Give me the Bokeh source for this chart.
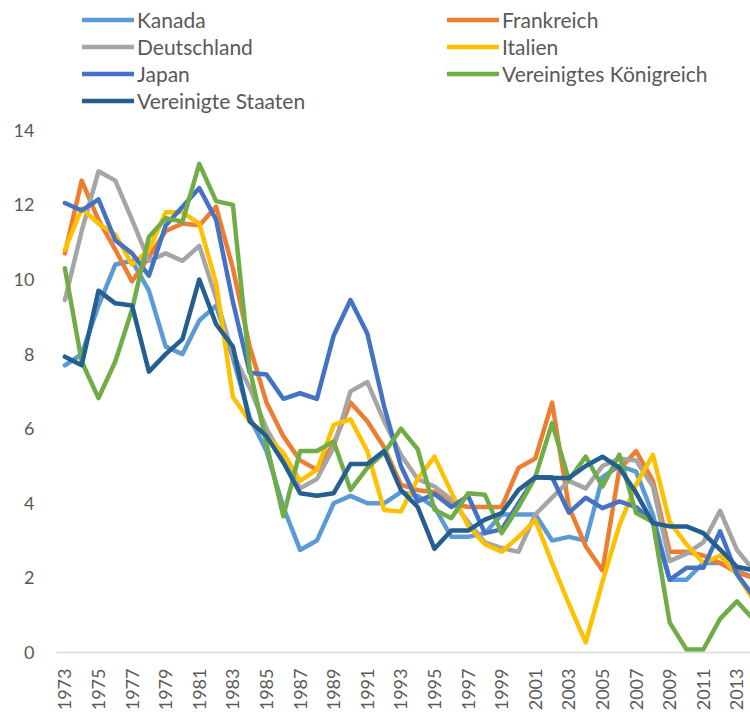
import math
from bokeh.plotting import figure
from bokeh.models import Range1d, FixedTicker, Legend, LegendItem
from bokeh.embed import file_html
from bokeh.resources import INLINE

years = list(range(1973, 2015))

kanada = [7.7, 8.0, 9.3, 10.4, 10.5, 9.7, 8.2, 8.0, 8.9, 9.3,
          7.9, 6.3, 5.4, 3.9, 2.75, 3.0, 4.0, 4.2, 4.0, 4.0,
          4.3, 4.2, 3.9, 3.1, 3.1, 3.2, 3.7, 3.7, 3.7, 3.0,
          3.1, 3.0, 4.7, 5.0, 4.85, 3.7, 1.95, 1.95, 2.4, 2.4,
          2.2, 2.0]
frankreich = [10.7, 12.65, 11.6, 10.8, 9.95, 10.6, 11.3, 11.5, 11.45, 11.95,
              10.3, 8.2, 6.7, 5.8, 5.15, 4.9, 5.6, 6.7, 6.2, 5.5,
              4.5, 4.35, 4.3, 4.0, 3.9, 3.9, 3.9, 4.95, 5.2, 6.7,
              3.9, 2.85, 2.2, 4.9, 5.4, 4.6, 2.7, 2.7, 2.6, 2.4,
              2.15, 2.0]
deutschland = [9.45, 11.3, 12.9, 12.65, 11.6, 10.5, 10.7, 10.5, 10.9, 9.5,
               8.0, 7.1, 6.0, 5.2, 4.4, 4.65, 5.5, 7.0, 7.25, 6.2,
               5.3, 4.65, 4.45, 4.1, 3.5, 2.95, 2.8, 2.7, 3.7, 4.15,
               4.6, 4.4, 5.0, 5.2, 5.15, 4.45, 2.45, 2.65, 2.95, 3.8,
               2.75, 2.2]
italien = [10.8, 11.9, 11.5, 11.2, 10.4, 10.8, 11.8, 11.8, 11.5, 9.9,
           6.85, 6.2, 5.8, 5.35, 4.6, 4.9, 6.1, 6.25, 5.4, 3.82,
           3.78, 4.65, 5.25, 4.3, 3.4, 2.9, 2.7, 3.1, 3.55, 2.4,
           1.3, 0.27, 1.9, 3.4, 4.5, 5.3, 3.5, 2.9, 2.4, 2.6,
           2.1, 1.4]
japan = [12.05, 11.85, 12.15, 11.05, 10.7, 10.1, 11.45, 11.95, 12.45, 11.6,
         9.4, 7.5, 7.45, 6.8, 6.95, 6.8, 8.5, 9.45, 8.55, 6.6,
         5.0, 4.05, 4.25, 3.9, 4.2, 3.2, 3.3, 4.0, 4.7, 4.7,
         3.75, 4.15, 3.87, 4.05, 3.9, 3.5, 1.95, 2.27, 2.27, 3.25,
         2.1, 1.5]
vk = [10.3, 7.8, 6.82, 7.8, 9.2, 11.14, 11.64, 11.55, 13.1, 12.1,
      12.0, 7.6, 5.6, 3.65, 5.4, 5.4, 5.66, 4.36, 4.95, 5.35,
      6.0, 5.45, 3.83, 3.6, 4.27, 4.23, 3.2, 3.9, 4.7, 6.15,
      4.63, 5.25, 4.45, 5.3, 3.74, 3.5, 0.8, 0.08, 0.08, 0.9,
      1.37, 0.88]
usa = [7.93, 7.7, 9.7, 9.36, 9.3, 7.53, 8.0, 8.4, 10.0, 8.8,
       8.2, 6.2, 5.8, 5.1, 4.27, 4.2, 4.27, 5.05, 5.05, 5.4,
       4.36, 3.9, 2.78, 3.27, 3.27, 3.56, 3.74, 4.36, 4.7, 4.68,
       4.68, 5.0, 5.25, 4.95, 4.28, 3.47, 3.38, 3.38, 3.2, 2.76,
       2.3, 2.2]

names = ["Kanada", "Frankreich", "Deutschland", "Italien", "Japan",
         "Vereinigtes Königreich", "Vereinigte Staaten"]
values = [kanada, frankreich, deutschland, italien, japan, vk, usa]
colors = ["#5B9BD5", "#ED7D31", "#A5A5A5", "#FFC000", "#4472C4",
          "#70AD47", "#255E91"]

x_tick_labels = list(range(1973, 2014, 2))
y_ticks = [0, 2, 4, 6, 8, 10, 12, 14]

FONT = "Lato"
TXT = "#595959"

W, H = 750, 713
BORDER_L, BORDER_B = 56, 60
PX_PER_YEAR = 16.8
PX_PER_UNIT = 37.36
frame_w = W - BORDER_L
frame_h = H - BORDER_B

p = figure(width=W, height=H, output_backend="svg", toolbar_location=None,
           x_range=Range1d(1972.5, 1972.5 + frame_w / PX_PER_YEAR),
           y_range=Range1d(0, frame_h / PX_PER_UNIT),
           min_border_left=BORDER_L, min_border_right=0, min_border_top=0,
           min_border_bottom=BORDER_B)
p.outline_line_color = None
p.xgrid.visible = False
p.ygrid.visible = False
p.background_fill_color = "white"

renderers = {}
for name, vals, col in zip(names, values, colors):
    r = p.line(years, vals, line_color=col, line_width=4.5,
               line_cap="round", line_join="round")
    renderers[name] = r

xa = p.xaxis[0]
xa.ticker = FixedTicker(ticks=x_tick_labels)
xa.major_label_orientation = math.pi / 2
xa.axis_line_color = "#D9D9D9"
xa.axis_line_width = 1.5
xa.major_tick_line_color = None
xa.minor_tick_line_color = None
xa.major_label_text_font = FONT
xa.major_label_text_font_size = "18px"
xa.major_label_text_color = TXT
xa.major_label_standoff = 10

ya = p.yaxis[0]
ya.ticker = FixedTicker(ticks=y_ticks)
ya.axis_line_color = None
ya.major_tick_line_color = None
ya.minor_tick_line_color = None
ya.major_label_text_font = FONT
ya.major_label_text_font_size = "18px"
ya.major_label_text_color = TXT
ya.major_label_standoff = 16


def make_legend(keys, loc):
    lg = Legend(items=[LegendItem(label=k, renderers=[renderers[k]]) for k in keys],
                location=loc, orientation="vertical")
    lg.padding = 0
    lg.margin = 0
    lg.spacing = 0
    lg.glyph_width = 52
    lg.glyph_height = 27
    lg.label_height = 27
    lg.label_standoff = 3
    lg.label_text_font = FONT
    lg.label_text_font_size = "21px"
    lg.label_text_color = TXT
    lg.border_line_color = None
    lg.background_fill_alpha = 0
    return lg


# legend rows centred near 21, 48, 75, 102 px from the top of the picture
leg1 = make_legend(["Kanada", "Deutschland", "Japan", "Vereinigte Staaten"],
                   (26, frame_h - 115))
leg2 = make_legend(["Frankreich", "Italien", "Vereinigtes Königreich"],
                   (391, frame_h - 88))
p.add_layout(leg1)
p.add_layout(leg2)

open("out.html", "w").write(file_html(p, INLINE))
